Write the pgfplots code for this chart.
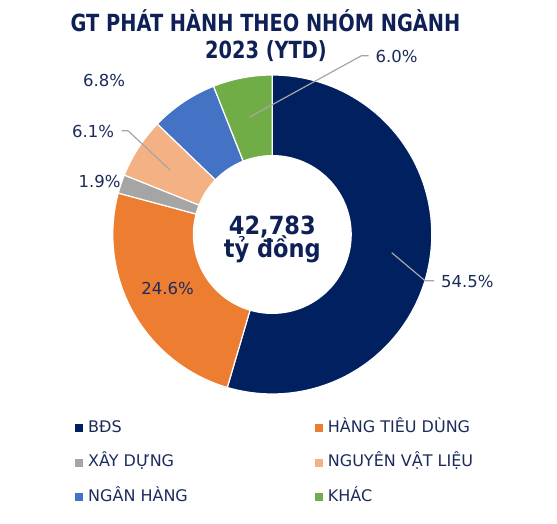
\documentclass[border=0pt]{standalone}
\usepackage{fontspec}
\setmainfont{DejaVu Sans}
\newfontfamily\titlefont[FakeStretch=0.82]{DejaVu Sans}
\newfontfamily\centerfont[FakeStretch=0.9]{DejaVu Sans}
\usepackage{pgfplots}
\pgfplotsset{compat=1.18}
\definecolor{cBDS}{HTML}{002060}
\definecolor{cHTD}{HTML}{ED7D31}
\definecolor{cXD}{HTML}{A5A5A5}
\definecolor{cNVL}{HTML}{F4B183}
\definecolor{cNH}{HTML}{4472C4}
\definecolor{cKH}{HTML}{70AD47}
\definecolor{titlecol}{HTML}{0F2057}
\definecolor{labcol}{HTML}{1C2B5A}
\definecolor{leadcol}{HTML}{A6A6A6}
% values (%)
\def\valA{54.5}\def\valB{24.6}\def\valC{1.9}\def\valD{6.1}\def\valE{6.8}\def\valF{6.0}
\def\cx{272.3}\def\cy{289.5}\def\R{159.5}\def\r{79.5}
\begin{document}
\begin{tikzpicture}
\pgfmathsetmacro\k{360/(\valA+\valB+\valC+\valD+\valE+\valF)}
\pgfmathsetmacro\tA{90}
\pgfmathsetmacro\tB{\tA-\k*\valA}
\pgfmathsetmacro\tC{\tB-\k*\valB}
\pgfmathsetmacro\tD{\tC-\k*\valC}
\pgfmathsetmacro\tE{\tD-\k*\valD}
\pgfmathsetmacro\tF{\tE-\k*\valE}
\pgfmathsetmacro\tG{\tF-\k*\valF}
\useasboundingbox (0,0) rectangle (557pt,524pt);
\begin{axis}[
  at={(0,0)}, anchor=south west,
  width=557pt, height=524pt, scale only axis,
  xmin=0, xmax=557, ymin=0, ymax=524,
  enlargelimits=false, hide axis, clip=false,
  legend columns=2,
  legend image code/.code={\path[#1, draw=none] (0pt,-4pt) rectangle (8pt,4pt);},
  legend style={
    at={(axis cs:75,104)}, anchor=north west,
    draw=none, fill=none,
    font=\fontsize{16}{16}\selectfont, text=labcol,
    inner xsep=0pt, inner ysep=0pt,
    row sep=18.5pt,
    nodes={inner sep=0pt, text height=12pt, text depth=4pt},
    /tikz/every odd column/.append style={column sep=5pt},
    /tikz/every even column/.append style={column sep=127pt},
  },
  legend cell align=left,
]
\addplot[fill=cBDS, draw=white, line width=1.2pt, domain=\tB:\tA, samples=90, variable=\t]
  ({\cx+\R*cos(\t)},{\cy+\R*sin(\t)}) -- (axis cs:\cx,\cy) -- cycle;
\addlegendentry{BĐS}
\addplot[fill=cHTD, draw=white, line width=1.2pt, domain=\tC:\tB, samples=50, variable=\t]
  ({\cx+\R*cos(\t)},{\cy+\R*sin(\t)}) -- (axis cs:\cx,\cy) -- cycle;
\addlegendentry{HÀNG TIÊU DÙNG}
\addplot[fill=cXD, draw=white, line width=1.2pt, domain=\tD:\tC, samples=8, variable=\t]
  ({\cx+\R*cos(\t)},{\cy+\R*sin(\t)}) -- (axis cs:\cx,\cy) -- cycle;
\addlegendentry{XÂY DỰNG}
\addplot[fill=cNVL, draw=white, line width=1.2pt, domain=\tE:\tD, samples=16, variable=\t]
  ({\cx+\R*cos(\t)},{\cy+\R*sin(\t)}) -- (axis cs:\cx,\cy) -- cycle;
\addlegendentry{NGUYÊN VẬT LIỆU}
\addplot[fill=cNH, draw=white, line width=1.2pt, domain=\tF:\tE, samples=16, variable=\t]
  ({\cx+\R*cos(\t)},{\cy+\R*sin(\t)}) -- (axis cs:\cx,\cy) -- cycle;
\addlegendentry{NGÂN HÀNG}
\addplot[fill=cKH, draw=white, line width=1.2pt, domain=\tG:\tF, samples=16, variable=\t]
  ({\cx+\R*cos(\t)},{\cy+\R*sin(\t)}) -- (axis cs:\cx,\cy) -- cycle;
\addlegendentry{KHÁC}
% hole
\addplot[fill=white, draw=none, domain=0:360, samples=120, variable=\t, forget plot]
  ({\cx+\r*cos(\t)},{\cy+\r*sin(\t)}) -- cycle;
% leader lines
\addplot[leadcol, line width=1.2pt, forget plot] coordinates {(249.3,406.7) (361.5,468.3) (368.5,468.3)};
\addplot[leadcol, line width=1.2pt, forget plot] coordinates {(170,354) (128,393.3) (121.7,393.3)};
\addplot[leadcol, line width=1.2pt, forget plot] coordinates {(391.7,271.3) (425,243.3) (434,243.3)};
% labels
\node[labcol, font=\fontsize{16.5}{16.5}\selectfont, inner sep=0pt, anchor=west] at (axis cs:441,242.5) {54.5\%};
\node[labcol, font=\fontsize{16.5}{16.5}\selectfont, inner sep=0pt] at (axis cs:167.5,235.7) {24.6\%};
\node[labcol, font=\fontsize{16.5}{16.5}\selectfont, inner sep=0pt] at (axis cs:99.5,342) {1.9\%};
\node[labcol, font=\fontsize{16.5}{16.5}\selectfont, inner sep=0pt] at (axis cs:93,392.5) {6.1\%};
\node[labcol, font=\fontsize{16.5}{16.5}\selectfont, inner sep=0pt] at (axis cs:104,443) {6.8\%};
\node[labcol, font=\fontsize{16.5}{16.5}\selectfont, inner sep=0pt] at (axis cs:396.7,467) {6.0\%};
% centre text
\node[titlecol, font=\centerfont\bfseries\fontsize{25}{25}\selectfont, inner sep=0pt, anchor=base] at (axis cs:272.3,289) {42,783};
\node[titlecol, font=\centerfont\bfseries\fontsize{25}{25}\selectfont, inner sep=0pt, anchor=base] at (axis cs:272.3,266) {tỷ đồng};
% title
\node[titlecol, font=\titlefont\bfseries\fontsize{23.6}{23.6}\selectfont, inner sep=0pt, anchor=base] at (axis cs:265.5,492) {GT PHÁT HÀNH THEO NHÓM NGÀNH};
\node[titlecol, font=\titlefont\bfseries\fontsize{23.6}{23.6}\selectfont, inner sep=0pt, anchor=base] at (axis cs:266,465) {2023 (YTD)};
\end{axis}
\end{tikzpicture}
\end{document}
